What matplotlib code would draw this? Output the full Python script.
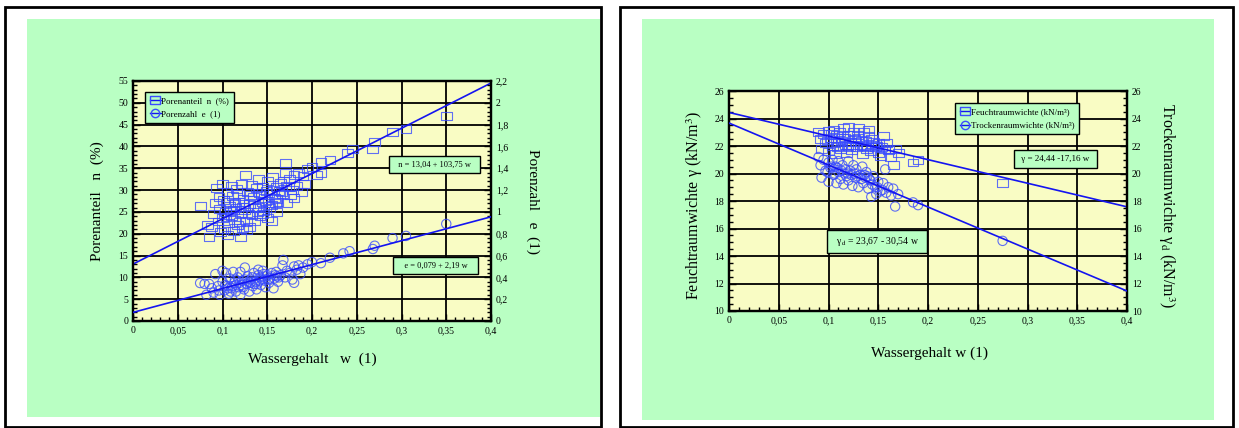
import numpy as np
import matplotlib
matplotlib.use("Agg")
from matplotlib import pyplot as plt
from matplotlib.lines import Line2D
from matplotlib.patches import Rectangle
from matplotlib.ticker import MultipleLocator

plt.rcParams['font.family'] = ['Liberation Serif', 'DejaVu Serif']
plt.rcParams['mathtext.fontset'] = 'stix'

# ---- data: left chart (Porenanteil n, Porenzahl e vs. Wassergehalt w) ----
w_n = [0.075, 0.083, 0.085, 0.088, 0.09, 0.092, 0.093, 0.095, 0.097, 0.098,
       0.10, 0.10, 0.101, 0.102, 0.103, 0.105, 0.106, 0.107, 0.108, 0.11,
       0.11, 0.111, 0.112, 0.113, 0.115, 0.116, 0.117, 0.118, 0.12, 0.12,
       0.121, 0.122, 0.123, 0.125, 0.126, 0.127, 0.128, 0.13, 0.13, 0.132,
       0.133, 0.135, 0.136, 0.138, 0.14, 0.14, 0.142, 0.143, 0.145, 0.146,
       0.148, 0.15, 0.15, 0.152, 0.155, 0.156, 0.158, 0.16, 0.16, 0.162,
       0.165, 0.167, 0.17, 0.17, 0.172, 0.175, 0.178, 0.18, 0.18, 0.183,
       0.185, 0.188, 0.19, 0.192, 0.195, 0.2, 0.205, 0.21, 0.21, 0.22,
       0.24, 0.245, 0.268, 0.27, 0.29, 0.305, 0.35, 0.145, 0.155, 0.118,
       0.096, 0.104, 0.109, 0.114, 0.119, 0.124, 0.129, 0.134, 0.139, 0.144,
       0.149, 0.153, 0.157, 0.161, 0.166, 0.171, 0.176, 0.112, 0.122, 0.131,
       0.137, 0.141, 0.147, 0.151, 0.159, 0.163, 0.168, 0.174, 0.106, 0.127]
n_vals = [26.3, 22.0, 19.2, 21.5, 24.5, 27.0, 30.5, 22.8, 25.6, 20.3,
          31.3, 23.5, 27.8, 21.0, 25.0, 29.5, 19.8, 22.5, 26.4, 31.0,
          24.0, 28.6, 20.6, 23.2, 26.0, 30.2, 22.0, 27.3, 19.3, 24.8,
          31.5, 21.4, 28.0, 25.5, 33.5, 23.0, 29.6, 26.8, 21.6, 31.2,
          24.3, 28.4, 22.8, 30.5, 26.2, 32.6, 24.0, 28.9, 30.7, 25.3,
          27.5, 32.0, 23.5, 29.4, 26.5, 33.0, 28.2, 30.8, 24.9, 27.3,
          31.7, 29.0, 36.2, 34.0, 27.0, 32.5, 30.0, 28.2, 33.5, 31.0,
          34.0, 29.5, 33.2, 31.5, 34.8, 35.2, 33.5, 36.5, 34.0, 37.0,
          38.5, 39.5, 39.3, 41.0, 43.3, 44.0, 47.0, 24.5, 23.0, 29.0,
          28.5, 23.8, 25.2, 27.0, 22.6, 26.9, 24.6, 27.8, 25.0, 27.2,
          29.8, 26.0, 30.0, 28.0, 29.6, 31.0, 28.8, 25.4, 26.2, 28.9,
          26.0, 29.3, 28.1, 27.0, 27.1, 29.9, 32.0, 30.6, 27.2, 20.8]

w_e = [0.075, 0.08, 0.082, 0.085, 0.088, 0.09, 0.092, 0.095, 0.097, 0.10,
       0.10, 0.102, 0.104, 0.105, 0.107, 0.108, 0.11, 0.112, 0.113, 0.115,
       0.117, 0.118, 0.12, 0.12, 0.122, 0.124, 0.125, 0.127, 0.128, 0.13,
       0.132, 0.134, 0.135, 0.137, 0.138, 0.14, 0.142, 0.143, 0.145, 0.147,
       0.148, 0.15, 0.152, 0.155, 0.157, 0.158, 0.16, 0.162, 0.165, 0.167,
       0.168, 0.17, 0.172, 0.175, 0.178, 0.18, 0.18, 0.183, 0.185, 0.187,
       0.19, 0.195, 0.2, 0.21, 0.22, 0.235, 0.242, 0.268, 0.27, 0.29,
       0.305, 0.35, 0.115, 0.125, 0.14, 0.096, 0.103, 0.109, 0.114, 0.119,
       0.123, 0.129, 0.133, 0.139, 0.144, 0.149, 0.153, 0.159, 0.163, 0.111,
       0.121, 0.131, 0.141, 0.151, 0.161, 0.106, 0.136, 0.146]
e_vals = [0.348, 0.34, 0.24, 0.34, 0.30, 0.26, 0.43, 0.32, 0.24, 0.46,
          0.36, 0.28, 0.44, 0.32, 0.25, 0.39, 0.30, 0.45, 0.35, 0.27,
          0.40, 0.31, 0.24, 0.45, 0.37, 0.29, 0.49, 0.34, 0.41, 0.27,
          0.38, 0.32, 0.44, 0.36, 0.29, 0.47, 0.40, 0.33, 0.46, 0.37,
          0.31, 0.42, 0.35, 0.44, 0.30, 0.39, 0.45, 0.36, 0.42, 0.51,
          0.56, 0.40, 0.46, 0.44, 0.38, 0.50, 0.35, 0.47, 0.51, 0.43,
          0.49, 0.52, 0.54, 0.53, 0.58, 0.62, 0.64, 0.66, 0.69, 0.76,
          0.78, 0.89, 0.33, 0.38, 0.42, 0.28, 0.33, 0.27, 0.38, 0.35,
          0.31, 0.36, 0.40, 0.34, 0.38, 0.41, 0.39, 0.42, 0.40, 0.32,
          0.33, 0.35, 0.37, 0.38, 0.41, 0.30, 0.34, 0.43]

# regression lines as labelled in the chart
n_fit = (13.04, 103.75)
e_fit = (0.079, 2.19)

# ---- data: right chart (Feucht-/Trockenraumwichte vs. Wassergehalt w) ----
w_g = [0.09, 0.092, 0.093, 0.095, 0.097, 0.10, 0.10, 0.102, 0.104, 0.105,
       0.107, 0.108, 0.11, 0.111, 0.112, 0.114, 0.115, 0.117, 0.118, 0.12,
       0.12, 0.122, 0.123, 0.125, 0.126, 0.128, 0.13, 0.13, 0.132, 0.134,
       0.135, 0.137, 0.138, 0.14, 0.14, 0.142, 0.145, 0.147, 0.15, 0.15,
       0.152, 0.155, 0.156, 0.158, 0.16, 0.162, 0.165, 0.167, 0.17, 0.185,
       0.19, 0.275, 0.099, 0.106, 0.113, 0.119, 0.124, 0.129, 0.133, 0.139,
       0.143, 0.148, 0.153, 0.109, 0.116, 0.121, 0.127, 0.136, 0.144, 0.103]
g_vals = [23.0, 22.5, 21.8, 22.9, 22.2, 23.1, 21.6, 22.6, 22.0, 23.2,
          21.4, 22.8, 22.3, 23.0, 21.8, 22.6, 23.3, 22.1, 21.5, 22.8,
          23.4, 22.3, 21.7, 23.0, 22.5, 21.9, 23.3, 22.6, 22.1, 21.4,
          23.0, 22.4, 21.8, 23.2, 22.7, 21.6, 22.3, 21.9, 21.5, 22.2,
          21.3, 22.7, 21.8, 22.2, 21.7, 21.2, 20.6, 21.8, 21.5, 20.8,
          21.0, 19.3, 22.4, 22.2, 22.4, 22.0, 22.1, 22.8, 22.4, 21.9,
          22.5, 22.0, 21.9, 21.9, 22.6, 21.9, 22.3, 22.0, 22.1, 22.9]

w_gd = [0.09, 0.092, 0.093, 0.095, 0.097, 0.10, 0.10, 0.102, 0.104, 0.105,
        0.107, 0.108, 0.11, 0.11, 0.112, 0.114, 0.115, 0.117, 0.118, 0.12,
        0.12, 0.122, 0.124, 0.125, 0.127, 0.128, 0.13, 0.132, 0.134, 0.135,
        0.137, 0.138, 0.14, 0.142, 0.143, 0.145, 0.147, 0.148, 0.15, 0.152,
        0.155, 0.157, 0.158, 0.16, 0.163, 0.165, 0.167, 0.17, 0.185, 0.19,
        0.275, 0.099, 0.106, 0.113, 0.119, 0.123, 0.129, 0.133, 0.139, 0.144,
        0.149, 0.154, 0.109, 0.116, 0.126, 0.136, 0.141, 0.103]
gd_vals = [21.2, 20.6, 19.7, 21.0, 20.2, 20.8, 19.4, 20.4, 21.0, 19.9,
           20.5, 19.3, 20.9, 20.1, 19.6, 20.6, 19.2, 20.3, 19.8, 20.9,
           19.5, 20.2, 19.1, 20.6, 19.7, 20.3, 19.0, 19.9, 20.5, 19.3,
           19.7, 20.1, 18.9, 19.5, 18.3, 19.8, 19.0, 18.5, 19.4, 18.7,
           19.3, 20.3, 18.6, 19.0, 18.4, 18.9, 17.6, 18.5, 17.9, 17.7,
           15.1, 20.1, 20.0, 20.2, 20.0, 19.9, 19.8, 19.6, 19.8, 19.2,
           19.0, 18.8, 20.4, 20.0, 20.0, 19.9, 19.6, 20.5]

g_fit = (24.44, -17.16)
gd_fit = (23.67, -30.54)

x_ticks = [0, 0.05, 0.1, 0.15, 0.2, 0.25, 0.3, 0.35, 0.4]
x_labels = ['0', '0,05', '0,1', '0,15', '0,2', '0,25', '0,3', '0,35', '0,4']
n_ticks = list(range(0, 56, 5))
e_ticks = [0, 0.2, 0.4, 0.6, 0.8, 1.0, 1.2, 1.4, 1.6, 1.8, 2.0, 2.2]
e_labels = ['0', '0,2', '0,4', '0,6', '0,8', '1', '1,2', '1,4', '1,6', '1,8', '2', '2,2']
g_ticks = list(range(10, 27, 2))

W, H = 1239, 428
GREEN = '#b9ffc3'
PLOT_BG = '#f9fcc4'
LINE = '#1414f0'
MARK = '#3a4cff'
rect_marker = [(-1.35, -1), (1.35, -1), (1.35, 1), (-1.35, 1), (-1.35, -1)]
line_w = np.array([0.0, 0.4])

fig = plt.figure(figsize=(W / 100, H / 100), dpi=100)


def px_rect(x0, y0, x1, y1, **kw):
    fig.patches.append(Rectangle((x0 / W, 1 - y1 / H), (x1 - x0) / W, (y1 - y0) / H,
                                 transform=fig.transFigure, figure=fig, zorder=-10, **kw))


def px_axes(x0, y0, x1, y1):
    return fig.add_axes([x0 / W, 1 - y1 / H, (x1 - x0) / W, (y1 - y0) / H])


# panel frames and green backgrounds
px_rect(5, 7, 601, 427, facecolor='white', edgecolor='black', linewidth=2)
px_rect(27, 19, 600, 417, facecolor=GREEN, edgecolor='none')
px_rect(620, 7, 1233, 427, facecolor='white', edgecolor='black', linewidth=2)
px_rect(642, 19, 1214, 420, facecolor=GREEN, edgecolor='none')


def style_axes(ax, ax2):
    ax.set_facecolor(PLOT_BG)
    for a in (ax, ax2):
        for s in a.spines.values():
            s.set_linewidth(1.6)
        a.tick_params(which='both', direction='in', labelsize=7, width=1.0)
        a.tick_params(which='major', length=5)
        a.tick_params(which='minor', length=3)
    ax.xaxis.set_minor_locator(MultipleLocator(0.01))
    ax.set_xticks(x_ticks)
    ax.set_xticklabels(x_labels)
    ax.grid(True, which='major', color='black', linewidth=1.3)
    ax.set_axisbelow(True)
    ax.set_xlim(0, 0.4)


def eq_box(ax, x, y, txt, size=6.5):
    ax.text(x, y, txt, transform=ax.transAxes, ha='center', va='center', fontsize=size,
            zorder=10, bbox=dict(boxstyle='square,pad=0.55', facecolor=GREEN,
                                 edgecolor='black', linewidth=1.0))


def scatter_pts(ax, x, y, marker, s):
    ax.scatter(x, y, marker=marker, s=s, facecolors='none',
               edgecolors=MARK, linewidths=0.8, alpha=0.8, zorder=3)


# ---------------- left chart ----------------
axL = px_axes(133, 81, 491, 321)
axL2 = axL.twinx()
style_axes(axL, axL2)
axL.set_ylim(0, 55)
axL.set_yticks(n_ticks)
axL.yaxis.set_minor_locator(MultipleLocator(1))
axL2.set_ylim(0, 2.2)
axL2.set_yticks(e_ticks)
axL2.set_yticklabels(e_labels)
axL2.yaxis.set_minor_locator(MultipleLocator(0.04))

scatter_pts(axL, w_n, n_vals, rect_marker, 60)
axL.plot(line_w, n_fit[0] + n_fit[1] * line_w, color=LINE, linewidth=1.2, zorder=4)
scatter_pts(axL2, w_e, e_vals, 'o', 45)
axL2.plot(line_w, e_fit[0] + e_fit[1] * line_w, color=LINE, linewidth=1.2, zorder=4)

axL.set_xlabel('Wassergehalt   w  (1)', fontsize=11)
axL.xaxis.set_label_coords(0.5, -0.13)
axL.set_ylabel('Porenanteil   n  (%)', fontsize=11)
axL.yaxis.set_label_coords(-0.08, 0.5)
axL2.set_ylabel('Porenzahl   e  (1)', fontsize=11, rotation=-90)
axL2.yaxis.set_label_coords(1.135, 0.5)

hL = [Line2D([], [], color=LINE, marker=rect_marker, markersize=7, markerfacecolor='none',
             markeredgecolor=MARK, linewidth=1.0),
      Line2D([], [], color=LINE, marker='o', markersize=6, markerfacecolor='none',
             markeredgecolor=MARK, linewidth=1.0)]
legL = axL2.legend(hL, ['Porenanteil  n  (%)', 'Porenzahl  e  (1)'], loc='upper left',
                   bbox_to_anchor=(0.034, 0.954), borderaxespad=0, fontsize=6.5,
                   handlelength=1.2, handletextpad=0.1, borderpad=0.5, labelspacing=0.6,
                   fancybox=False, framealpha=1, facecolor=GREEN, edgecolor='black')
legL.get_frame().set_linewidth(1.0)
legL.set_zorder(10)

eq_box(axL2, 0.842, 0.652, '  n = 13,04 + 103,75 w  ', 6)
eq_box(axL2, 0.846, 0.231, '   e = 0,079 + 2,19 w   ', 6)

# ---------------- right chart ----------------
axR = px_axes(729, 91, 1127, 311)
axR2 = axR.twinx()
style_axes(axR, axR2)
for a in (axR, axR2):
    a.set_ylim(10, 26)
    a.set_yticks(g_ticks)
    a.yaxis.set_minor_locator(MultipleLocator(0.5))

scatter_pts(axR, w_g, g_vals, rect_marker, 60)
axR.plot(line_w, g_fit[0] + g_fit[1] * line_w, color=LINE, linewidth=1.2, zorder=4)
scatter_pts(axR2, w_gd, gd_vals, 'o', 45)
axR2.plot(line_w, gd_fit[0] + gd_fit[1] * line_w, color=LINE, linewidth=1.2, zorder=4)

axR.set_xlabel('Wassergehalt w (1)', fontsize=11)
axR.xaxis.set_label_coords(0.505, -0.16)
axR.set_ylabel('Feuchtraumwichte γ (kN/m$^3$)', fontsize=11.5)
axR.yaxis.set_label_coords(-0.06, 0.48)
axR2.set_ylabel(r'Trockenraumwichte γ$_\mathrm{d}$ (kN/m$^3$)', fontsize=11.5, rotation=-90)
axR2.yaxis.set_label_coords(1.125, 0.48)

legR = axR2.legend(hL, ['Feuchtraumwichte (kN/m³)', 'Trockenraumwichte (kN/m³)'],
                   loc='upper left', bbox_to_anchor=(0.568, 0.945), borderaxespad=0,
                   fontsize=6.5, handlelength=1.2, handletextpad=0.1, borderpad=0.5,
                   labelspacing=0.6, fancybox=False, framealpha=1, facecolor=GREEN,
                   edgecolor='black')
legR.get_frame().set_linewidth(1.0)
legR.set_zorder(10)

eq_box(axR2, 0.820, 0.689, ' γ = 24,44 -17,16 w ', 6.5)
eq_box(axR2, 0.372, 0.316, r'  γ$_\mathrm{d}$ = 23,67 - 30,54 w  ', 7)

fig.savefig('out.png', dpi=100)
